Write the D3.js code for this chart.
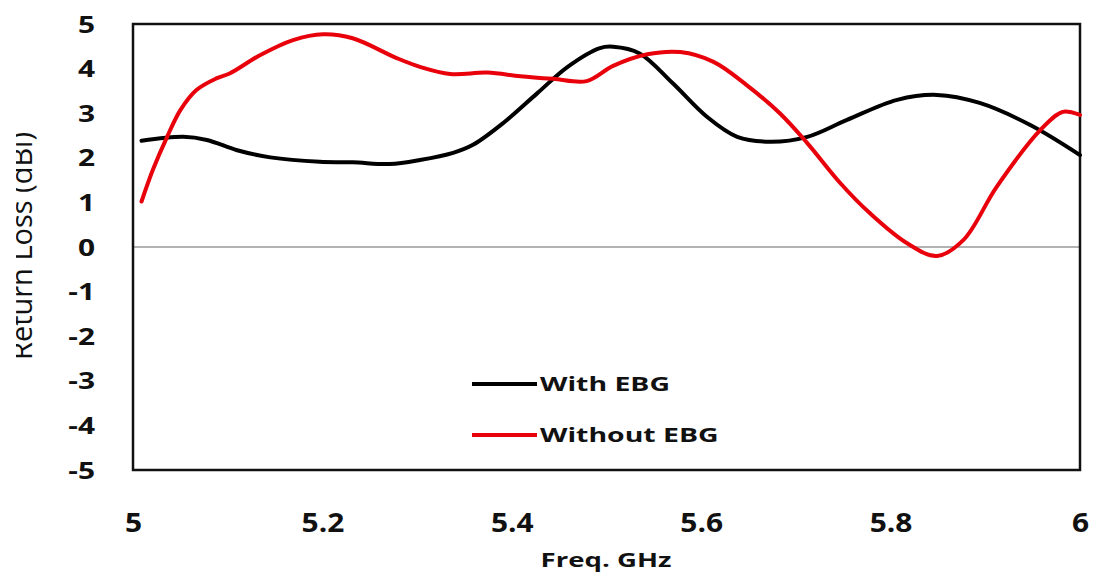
<!DOCTYPE html>
<html>
<head>
<meta charset="utf-8">
<script src="https://cdn.jsdelivr.net/npm/d3@7"></script>
<style>
  body { margin: 0; background: #fff; }
  text { font-family: "Open Sans", sans-serif; fill: #111; }
</style>
</head>
<body>
<svg id="chart"></svg>
<script>
// With EBG (black)
let withFreq = [5.009, 5.053, 5.078, 5.11, 5.145, 5.197, 5.232, 5.271, 5.303, 5.338, 5.359, 5.391, 5.427, 5.459, 5.493, 5.507, 5.535, 5.570, 5.606, 5.638, 5.673, 5.712, 5.754, 5.807, 5.849, 5.894, 5.947, 6.0];
let withVal = [2.38, 2.47, 2.40, 2.17, 2.01, 1.91, 1.90, 1.86, 1.95, 2.11, 2.29, 2.78, 3.45, 4.04, 4.46, 4.49, 4.34, 3.67, 2.92, 2.47, 2.36, 2.47, 2.85, 3.30, 3.41, 3.23, 2.74, 2.06];

// Without EBG (red)
let withoutFreq = [5.009, 5.021, 5.036, 5.050, 5.067, 5.088, 5.102, 5.134, 5.169, 5.201, 5.232, 5.279, 5.303, 5.335, 5.374, 5.409, 5.444, 5.479, 5.507, 5.543, 5.578, 5.613, 5.648, 5.683, 5.712, 5.747, 5.778, 5.817, 5.849, 5.877, 5.912, 5.958, 5.982, 6.0];
let withoutVal = [1.02, 1.73, 2.47, 3.07, 3.52, 3.78, 3.89, 4.30, 4.64, 4.77, 4.68, 4.23, 4.04, 3.88, 3.91, 3.83, 3.77, 3.72, 4.06, 4.32, 4.37, 4.15, 3.63, 3.00, 2.33, 1.43, 0.76, 0.09, -0.20, 0.16, 1.35, 2.62, 3.03, 2.96];

let xTicks = [5, 5.2, 5.4, 5.6, 5.8, 6];
let yTicks = [5, 4, 3, 2, 1, 0, -1, -2, -3, -4, -5];
let seriesNames = ["With EBG", "Without EBG"];
let seriesColors = ["#000000", "#e8000b"];

let W = 1093, H = 574;
let margin = {top: 24, right: 13, bottom: 104, left: 133},
    width = W - margin.left - margin.right,
    height = H - margin.top - margin.bottom;

let root = d3.select("#chart").attr("width", W).attr("height", H);
let svg = root.append("g")
    .attr("transform", "translate(" + margin.left + "," + margin.top + ")");

let x = d3.scaleLinear().domain([5, 6]).range([0, width]);
let y = d3.scaleLinear().domain([-5, 5]).range([height, 0]);

// zero line
svg.append("line")
    .attr("x1", 0).attr("x2", width)
    .attr("y1", y(0)).attr("y2", y(0))
    .attr("stroke", "#999").attr("stroke-width", 1.3);

// frame
svg.append("rect")
    .attr("x", 0).attr("y", 0)
    .attr("width", width).attr("height", height)
    .attr("fill", "none").attr("stroke", "#111").attr("stroke-width", 2.5);

// axes (labels only, Excel style)
let xAxis = svg.append("g")
    .attr("transform", "translate(0," + height + ")")
    .call(d3.axisBottom(x).tickValues(xTicks).tickSize(0).tickPadding(0).tickFormat(d => String(d)));
xAxis.select(".domain").remove();
xAxis.selectAll("text")
    .attr("y", 0).attr("dy", 0)
    .attr("transform", "translate(0,62) scale(1.15,1)")
    .style("font-size", "26px").style("font-weight", "bold").style("fill", "#111");

let yAxis = svg.append("g")
    .call(d3.axisLeft(y).tickValues(yTicks).tickSize(0).tickPadding(0).tickFormat(d => String(d)));
yAxis.select(".domain").remove();
yAxis.selectAll("text")
    .attr("x", 0).attr("dy", 0)
    .attr("transform", "translate(-38,8) scale(1.3,1)")
    .style("font-size", "23px").style("font-weight", "bold").style("fill", "#111");

// titles
root.append("text")
    .attr("transform", "translate(606,567) scale(1.45,1)")
    .attr("text-anchor", "middle")
    .style("font-size", "19px").style("font-weight", "bold")
    .text("Freq. GHz");

// y title: the source image is cropped through the top of this label
root.append("defs").append("clipPath")
    .attr("id", "ytclip")
    .append("rect")
    .attr("x", 16).attr("y", 0).attr("width", 40).attr("height", H);

root.append("g")
    .attr("clip-path", "url(#ytclip)")
    .append("text")
    .attr("transform", "translate(32,246) rotate(-90)")
    .attr("text-anchor", "middle")
    .attr("textLength", 228)
    .attr("lengthAdjust", "spacingAndGlyphs")
    .style("font-size", "30px")
    .text("Return Loss (dBi)");

// lines
let line = d3.line()
    .x(d => x(d[0]))
    .y(d => y(d[1]))
    .curve(d3.curveCatmullRom.alpha(0.5));

let series = [
    d3.zip(withFreq, withVal),
    d3.zip(withoutFreq, withoutVal)
];

svg.selectAll(".series")
    .data(series)
    .enter()
    .append("path")
    .attr("class", "series")
    .attr("d", line)
    .attr("fill", "none")
    .attr("stroke", (d, i) => seriesColors[i])
    .attr("stroke-width", 4)
    .attr("stroke-linejoin", "round")
    .attr("stroke-linecap", "round");

// legend
let legend = root.append("g");
seriesNames.forEach(function (name, i) {
    let ly = 384 + i * 51;
    legend.append("line")
        .attr("x1", 472).attr("x2", 537)
        .attr("y1", ly).attr("y2", ly)
        .attr("stroke", seriesColors[i]).attr("stroke-width", 4);
    legend.append("text")
        .attr("transform", "translate(540," + (ly + 7) + ") scale(1.42,1)")
        .style("font-size", "20px").style("font-weight", "bold")
        .text(name);
});
</script>
</body>
</html>
